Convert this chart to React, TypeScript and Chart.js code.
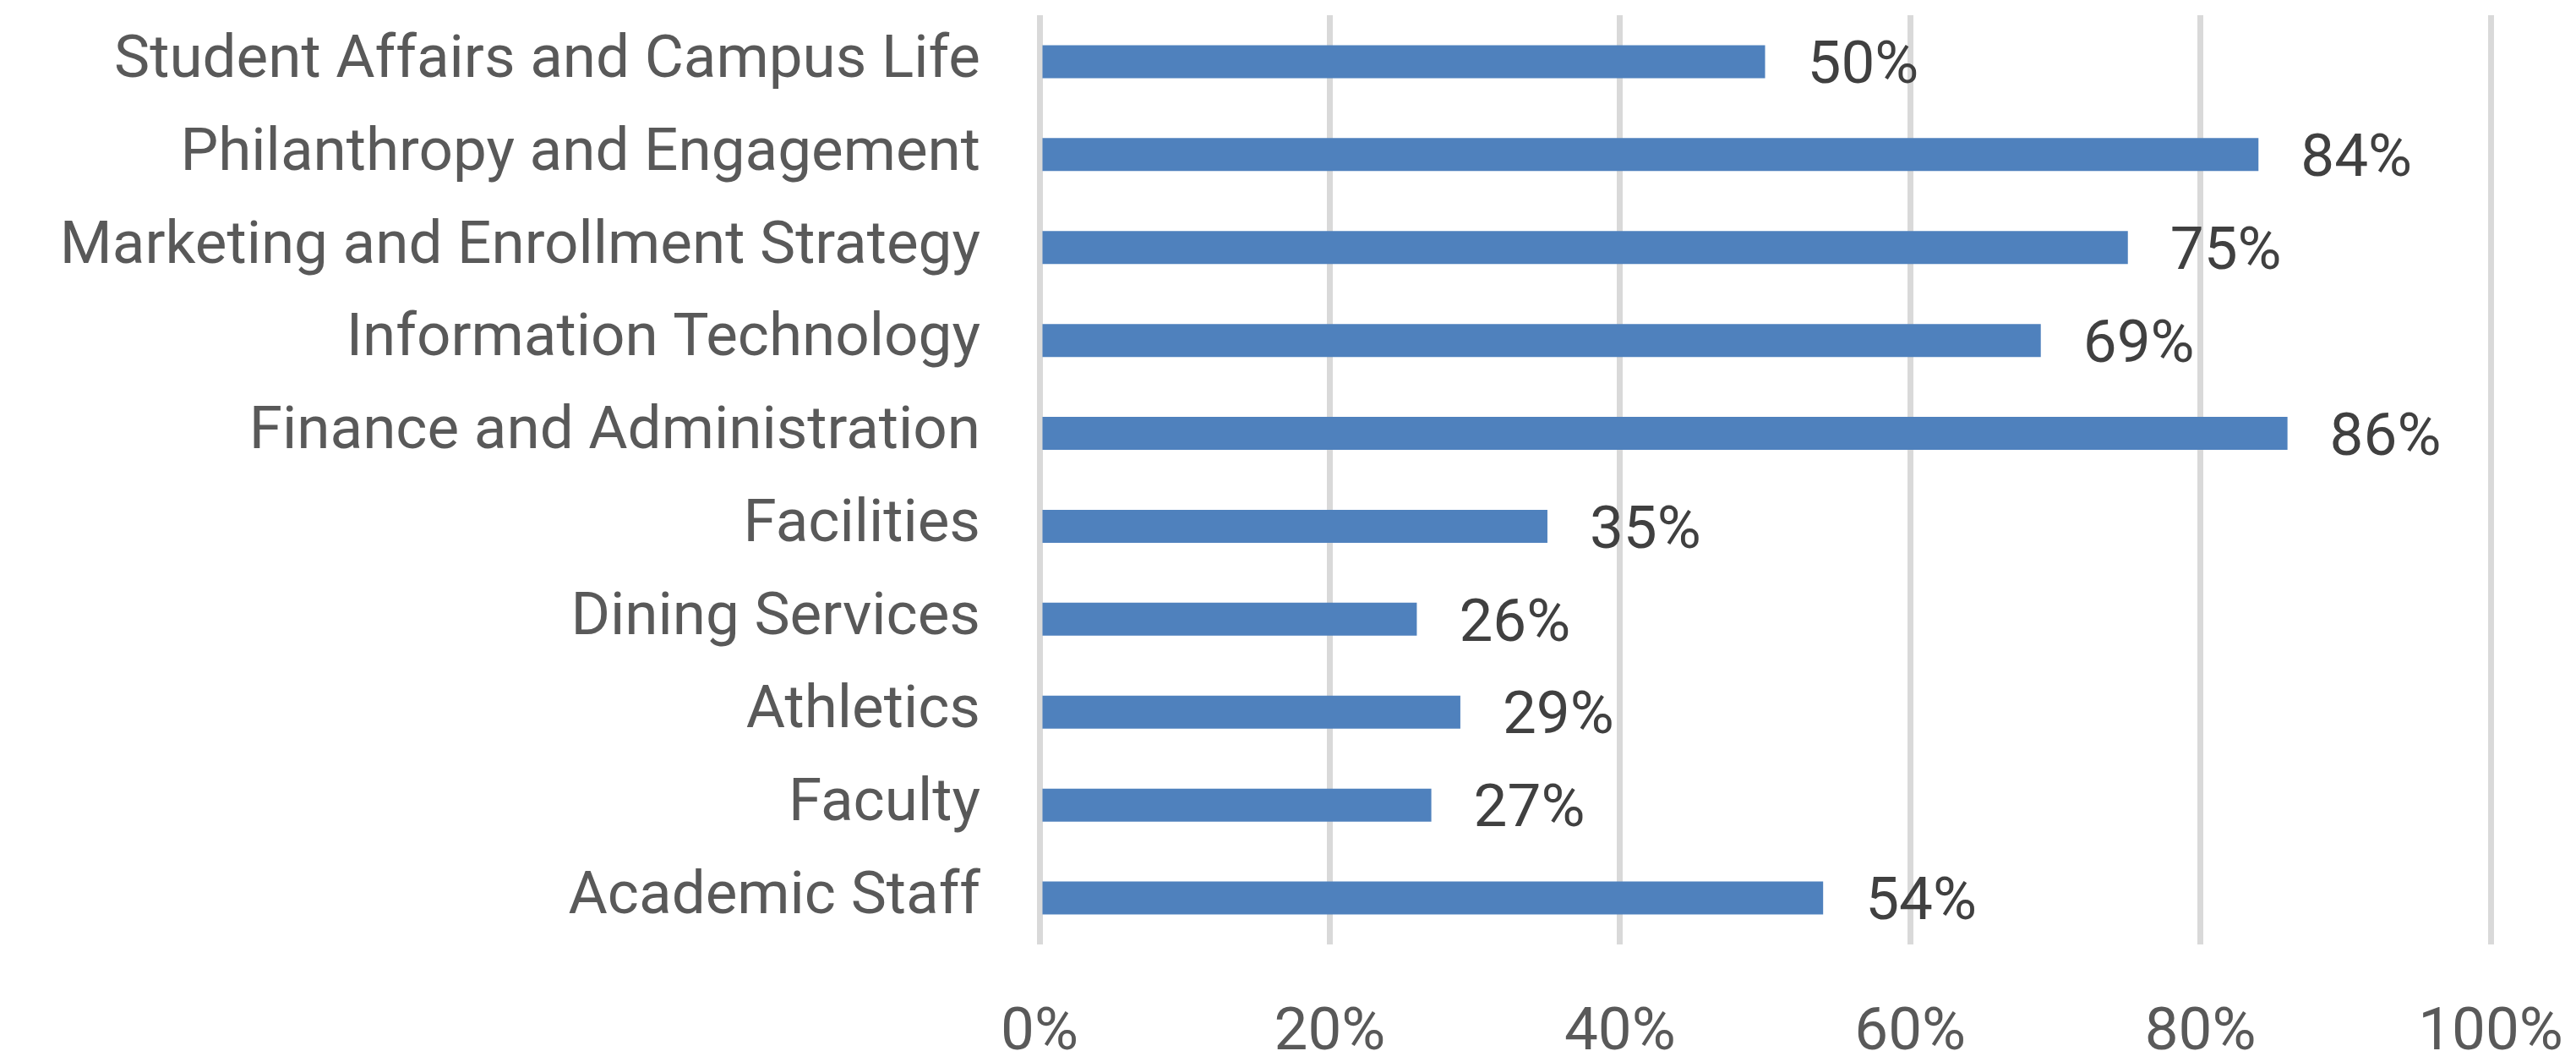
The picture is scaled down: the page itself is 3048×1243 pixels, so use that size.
import React, { useEffect, useRef } from "react";
import { Chart, registerables } from "chart.js";

Chart.register(...registerables);

const categories: string[] = [
  "Student Affairs and Campus Life",
  "Philanthropy and Engagement",
  "Marketing and Enrollment Strategy",
  "Information Technology",
  "Finance and Administration",
  "Facilities",
  "Dining Services",
  "Athletics",
  "Faculty",
  "Academic Staff",
];

const percentValues: number[] = [50, 84, 75, 69, 86, 35, 26, 29, 27, 54];

const xTickValues: number[] = [0, 20, 40, 60, 80, 100];

const W = 3048;
const H = 1243;
const FONT = "Roboto";
const FONT_SIZE = 71;
const BAR_COLOR = "#4F81BD";
const GRID_COLOR = "#D9D9D9";
const TICK_COLOR = "#595959";
const VALUE_COLOR = "#404040";

const valueLabelPlugin = {
  id: "valueLabels",
  afterDatasetsDraw(chart: any) {
    const ctx = chart.ctx;
    const meta = chart.getDatasetMeta(0);
    ctx.save();
    ctx.font = `${FONT_SIZE}px ${FONT}`;
    ctx.fillStyle = VALUE_COLOR;
    ctx.textAlign = "left";
    ctx.textBaseline = "alphabetic";
    const capHalf = (FONT_SIZE * 0.711) / 2;
    meta.data.forEach((bar: any, i: number) => {
      ctx.fillText(`${percentValues[i]}%`, bar.x + 50, bar.y + capHalf);
    });
    ctx.restore();
  },
};

export default function App() {
  const canvasRef = useRef<HTMLCanvasElement | null>(null);

  useEffect(() => {
    const canvas = canvasRef.current;
    if (!canvas) return;
    const chart = new Chart(canvas, {
      type: "bar",
      data: {
        labels: categories,
        datasets: [
          {
            data: percentValues,
            backgroundColor: BAR_COLOR,
            borderWidth: 0,
            barPercentage: 0.355,
            categoryPercentage: 1,
          },
        ],
      },
      options: {
        indexAxis: "y",
        responsive: false,
        animation: false,
        devicePixelRatio: 1,
        layout: { padding: { top: 18, right: 101, bottom: 0, left: 0 } },
        plugins: {
          legend: { display: false },
          tooltip: { enabled: false },
        },
        scales: {
          x: {
            type: "linear",
            min: 0,
            max: 100,
            afterBuildTicks: (scale: any) => {
              scale.ticks = xTickValues.map((v) => ({ value: v }));
            },
            afterFit: (scale: any) => {
              scale.height = H - 1117;
              scale.paddingLeft = 0;
              scale.paddingRight = 0;
            },
            grid: {
              color: GRID_COLOR,
              lineWidth: 7,
              drawTicks: false,
            },
            border: { display: false },
            ticks: {
              padding: 64,
              color: TICK_COLOR,
              font: { family: FONT, size: FONT_SIZE },
              maxRotation: 0,
              callback: (v: any) => `${v}%`,
            },
          },
          y: {
            afterFit: (scale: any) => {
              scale.width = 1230;
              scale.paddingTop = 0;
              scale.paddingBottom = 0;
            },
            grid: { display: false, drawTicks: false },
            border: { display: false },
            ticks: {
              padding: 70,
              color: TICK_COLOR,
              font: { family: FONT, size: FONT_SIZE },
              autoSkip: false,
            },
          },
        },
      },
      plugins: [valueLabelPlugin],
    } as any);
    return () => chart.destroy();
  }, []);

  return (
    <div style={{ position: "absolute", left: 0, top: 0, width: W, height: H, background: "#fff" }}>
      <canvas ref={canvasRef} width={W} height={H} style={{ width: W, height: H, display: "block" }} />
    </div>
  );
}
